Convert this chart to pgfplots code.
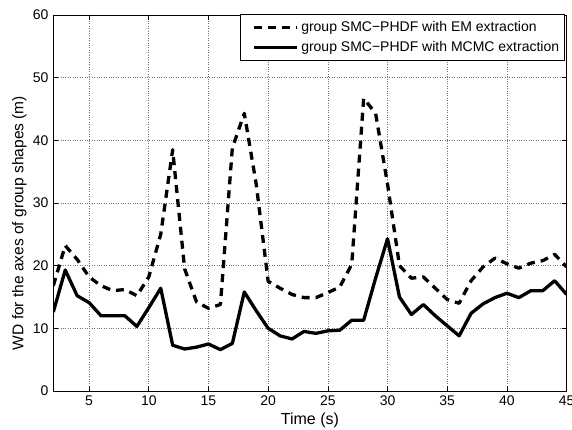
\documentclass[border=0pt]{standalone}
\usepackage{fontspec}
\setmainfont{Liberation Sans}
\usepackage{pgfplots}
\pgfplotsset{compat=1.18}
\pgfplotstableread{
x em mcmc
2 16.8 12.6
3 23.2 19.3
4 21.0 15.2
5 18.2 14.1
6 16.8 12.0
7 16.0 12.0
8 16.2 12.0
9 15.2 10.3
10 18.2 13.3
11 25.0 16.4
12 38.5 7.3
13 19.5 6.7
14 14.2 7.0
15 13.2 7.5
16 13.8 6.6
17 38.8 7.6
18 44.3 15.8
19 33.0 12.8
20 17.5 10.0
21 16.4 8.8
22 15.4 8.3
23 14.9 9.5
24 14.9 9.2
25 15.7 9.6
26 16.6 9.7
27 20.2 11.3
28 46.7 11.3
29 44.3 18.0
30 33.0 24.3
31 20.0 15.0
32 18.0 12.2
33 18.2 13.8
34 16.4 12.0
35 14.6 10.4
36 14.0 8.8
37 17.6 12.4
38 19.8 13.9
39 21.2 14.9
40 20.3 15.6
41 19.6 14.9
42 20.4 16.0
43 20.8 16.0
44 21.8 17.6
45 19.8 15.4
}\datatable
\begin{document}
\fontsize{14}{16}\selectfont
\begin{tikzpicture}
\begin{axis}[
  scale only axis, width=513.3pt, height=376pt,
  xmin=2, xmax=45, ymin=0, ymax=60,
  xtick={5,10,...,45}, ytick={0,10,...,60},
  tick align=inside, major tick length=5pt,
  grid=major, major grid style={dotted, black!55, line width=0.6pt},
  axis line style={line width=0.8pt},
  every tick/.style={black, line width=0.6pt},
  /pgf/number format/assume math mode=true,
  ticklabel style={font=\fontsize{14}{16}\selectfont},
  xlabel={Time (s)}, ylabel={WD for the axes of group shapes (m)},
  xlabel style={font=\fontsize{16}{18}\selectfont, at={(axis description cs:0.5,0)}, anchor=base, yshift=-34pt},
  ylabel style={font=\fontsize{15.5}{18}\selectfont, at={(axis description cs:0,0.5)}, anchor=base, yshift=29.8pt, xshift=-20pt},
  legend style={at={(0.997,1.003)}, anchor=north east, font=\fontsize{14}{16}\selectfont,
    draw=black, line width=0.8pt, inner xsep=3pt, inner ysep=4.5pt, row sep=3pt,
    nodes={inner sep=2.5pt}},
  legend cell align=left,
  legend image code/.code={\path (-9pt,0pt); \draw[#1] (0pt,0pt) -- (43pt,0pt);},
]
\addplot[black, line width=3.3pt, line join=round, dash pattern=on 8pt off 6pt] table[x=x, y=em] {\datatable};
\addlegendentry{group SMC−PHDF with EM extraction}
\addplot[black, line width=3.3pt, line join=round] table[x=x, y=mcmc] {\datatable};
\addlegendentry{group SMC−PHDF with MCMC extraction}
\coordinate (bbsw) at (rel axis cs:0,0);
\coordinate (bbne) at (rel axis cs:1,1);
\end{axis}
\pgfresetboundingbox
\path[use as bounding box] ([xshift=-53.3pt,yshift=-39pt]bbsw) rectangle ([xshift=5.4pt,yshift=15pt]bbne);
\end{tikzpicture}
\end{document}
